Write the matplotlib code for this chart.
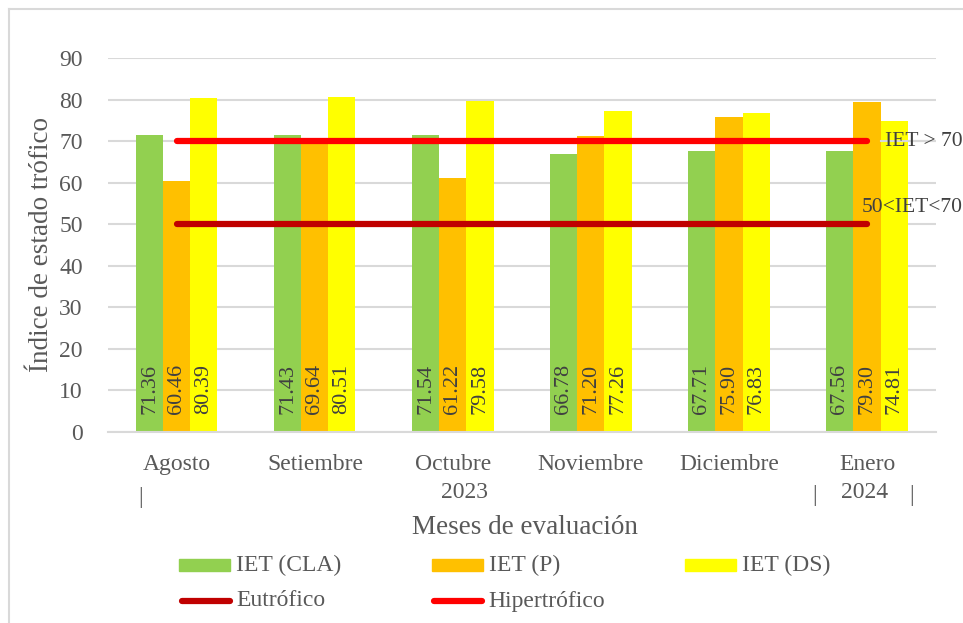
import matplotlib.pyplot as plt
from matplotlib.lines import Line2D
from matplotlib.patches import Rectangle
import numpy as np

months = ["Agosto", "Setiembre", "Octubre", "Noviembre", "Diciembre", "Enero"]
iet_cla = [71.36, 71.43, 71.54, 66.78, 67.71, 67.56]
iet_p = [60.46, 69.64, 61.22, 71.20, 75.90, 79.30]
iet_ds = [80.39, 80.51, 79.58, 77.26, 76.83, 74.81]
eutrofico = 50
hipertrofico = 70
series_names = ["IET (CLA)", "IET (P)", "IET (DS)"]
colors = ["#92D050", "#FFC000", "#FFFF00"]

plt.rcParams["font.family"] = ["Liberation Serif", "DejaVu Serif"]
text_color = "#595959"
W, H = 963, 623


def fx(px):
    return px / W


def fy(py):
    return 1 - py / H


fig = plt.figure(figsize=(9.63, 6.23), dpi=100)
ax = fig.add_axes([0.112, 0.3066, 0.86, 0.6004])

x = np.arange(len(months))
width = 0.196
for i, (vals, c) in enumerate(zip([iet_cla, iet_p, iet_ds], colors)):
    pos = x + (i - 1) * width
    ax.bar(pos, vals, width=width, color=c, zorder=2)
    for px, v in zip(pos, vals):
        ax.text(px, 4.3, f"{v:.2f}", rotation=90, ha="center", va="bottom",
                fontsize=16, color="#404040", zorder=3)

ax.plot([x[0], x[-1]], [hipertrofico] * 2, color="#FF0000", lw=4.5,
        solid_capstyle="round", zorder=4)
ax.plot([x[0], x[-1]], [eutrofico] * 2, color="#C00000", lw=4.5,
        solid_capstyle="round", zorder=4)
ax.plot([x[-1] + 0.1, x[-1] + 0.5], [hipertrofico] * 2, color="#D9D9D9", lw=1.5, zorder=4)
ax.text(x[-1] + 0.13, hipertrofico, "IET > 70", fontsize=15.5, color="#404040",
        va="center", ha="left", zorder=5)
ax.text(x[-1] - 0.04, 53.9, "50<IET<70", fontsize=15.5, color="#404040",
        va="center", ha="left", zorder=5)

ax.set_xlim(-0.5, len(months) - 0.5)
ax.set_ylim(0, 90)
ax.set_yticks(range(0, 91, 10))
ax.yaxis.grid(True, color="#D9D9D9", lw=1.5, zorder=0)
ax.set_axisbelow(True)
for s in ["top", "right", "left"]:
    ax.spines[s].set_visible(False)
ax.spines["bottom"].set_color("#D9D9D9")
ax.spines["bottom"].set_linewidth(1.5)
ax.tick_params(axis="both", length=0, labelsize=17, colors=text_color)
ax.tick_params(axis="y", pad=18)
ax.set_xticks(x)
ax.set_xticklabels(months)
ax.tick_params(axis="x", pad=16)
ax.set_ylabel("Índice de estado trófico", fontsize=19.5, color=text_color, labelpad=4)

# year groupings under the month labels
for px, py, s in [(141, 497, "|"), (464, 493, "2023"), (815, 496, "|"),
                  (865, 493, "2024"), (912, 496, "|")]:
    fig.text(fx(px), fy(py), s, fontsize=17, color=text_color, ha="center", va="center")
fig.text(fx(525), fy(527), "Meses de evaluación", fontsize=19.5, color=text_color,
         ha="center", va="center")

# legend, drawn by hand to match the spacing of the original
patch_x = [179, 432, 685]
for px, c, name in zip(patch_x, colors, series_names):
    fig.add_artist(Rectangle((fx(px), fy(571)), 51 / W, 12 / H, color=c))
    fig.text(fx(px + 57), fy(565), name, fontsize=17, color=text_color, va="center")
for px, c, name in [(180, "#C00000", "Eutrófico"), (432, "#FF0000", "Hipertrófico")]:
    fig.add_artist(Line2D([fx(px + 2), fx(px + 50)], [fy(601), fy(601)], color=c, lw=4.5,
                          solid_capstyle="round"))
    fig.text(fx(px + 56), fy(601), name, fontsize=17, color=text_color, va="center")

# outer chart frame (left and top edges visible)
fig.add_artist(Line2D([fx(9), fx(9)], [0, fy(9)], color="#D9D9D9", lw=1.5))
fig.add_artist(Line2D([fx(9), 1], [fy(9), fy(9)], color="#D9D9D9", lw=1.5))

fig.savefig("out.png", dpi=100)
